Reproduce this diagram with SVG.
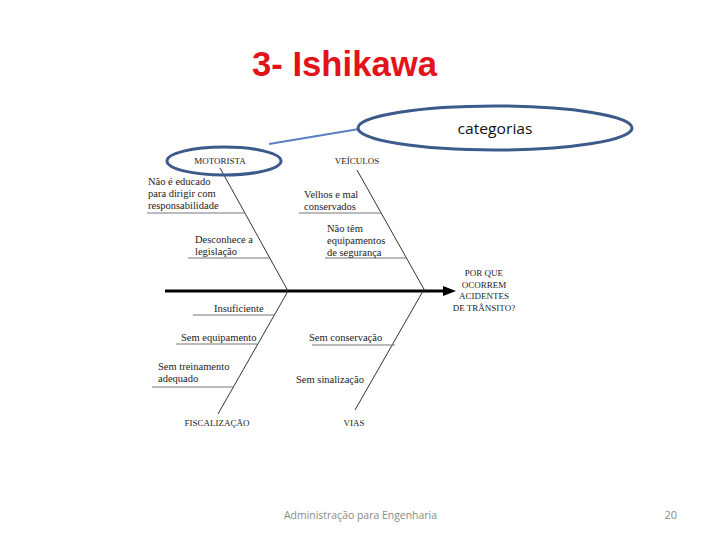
<svg xmlns="http://www.w3.org/2000/svg" width="720" height="540" viewBox="0 0 720 540">
<defs>
<style>
.t{font-family:"Liberation Serif","DejaVu Serif",serif;font-size:10.5px;fill:#222}
.c{font-family:"Liberation Serif","DejaVu Serif",serif;font-size:9px;fill:#222}
.bone{stroke:#333;stroke-width:1;fill:none}
.sub{stroke:#777;stroke-width:1;fill:none}
.oval{fill:none;stroke:#3c5a8a;stroke-width:3}
</style>
</defs>
<rect width="720" height="540" fill="#fff"/>
<text x="252" y="76" font-family="'Liberation Sans',Arial,sans-serif" font-weight="bold" font-size="35" fill="#e3121b" textLength="185" lengthAdjust="spacingAndGlyphs">3- Ishikawa</text>

<g id="connectors">
<line x1="269" y1="144" x2="359" y2="129" stroke="#5b7fbf" stroke-width="2"/>
<line x1="165" y1="291" x2="446" y2="291" stroke="#000" stroke-width="3"/>
<polygon points="443,286 456,291 443,296" fill="#000"/>
<line class="bone" x1="220" y1="168" x2="288" y2="291"/>
<line class="bone" x1="357" y1="170" x2="425" y2="291"/>
<line class="bone" x1="288" y1="291" x2="218" y2="414"/>
<line class="bone" x1="423" y1="291" x2="355" y2="410"/>
<line class="sub" x1="147" y1="213" x2="245" y2="213"/>
<line class="sub" x1="188" y1="258" x2="269" y2="258"/>
<line class="sub" x1="299" y1="213" x2="381" y2="213"/>
<line class="sub" x1="325" y1="258" x2="406" y2="258"/>
<line class="sub" x1="193" y1="315" x2="274" y2="315"/>
<line class="sub" x1="176" y1="344" x2="257" y2="344"/>
<line class="sub" x1="152" y1="387" x2="233" y2="387"/>
<line class="sub" x1="312" y1="345" x2="395" y2="345"/>
</g>

<g id="categorias">
<ellipse class="oval" cx="495" cy="128" rx="137" ry="22"/>
<text x="495" y="134" text-anchor="middle" font-family="'Open Sans','Liberation Sans',sans-serif" font-size="15" fill="#111" textLength="75" lengthAdjust="spacingAndGlyphs">categorias</text>
</g>

<g id="motorista">
<ellipse class="oval" cx="224" cy="161" rx="57" ry="14"/>
<text class="c" x="220" y="164" text-anchor="middle">MOTORISTA</text>
</g>

<g id="veiculos">
<text class="c" x="357" y="164" text-anchor="middle">VEÍCULOS</text>
</g>

<g id="fiscalizacao">
<text class="c" x="217" y="426" text-anchor="middle">FISCALIZAÇÃO</text>
</g>

<g id="vias">
<text class="c" x="354" y="426" text-anchor="middle">VIAS</text>
</g>

<g id="efeito">
<text class="c" x="484" y="276" text-anchor="middle">POR QUE</text>
<text class="c" x="484" y="288" text-anchor="middle">OCORREM</text>
<text class="c" x="484" y="299" text-anchor="middle">ACIDENTES</text>
<text class="c" x="484" y="311" text-anchor="middle">DE TRÂNSITO?</text>
</g>

<g id="causa-nao-educado">
<text class="t" x="148" y="185">Não é educado</text>
<text class="t" x="148" y="197">para dirigir com</text>
<text class="t" x="148" y="209">responsabilidade</text>
</g>
<g id="causa-desconhece">
<text class="t" x="195" y="243">Desconhece a</text>
<text class="t" x="195" y="255">legislação</text>
</g>
<g id="causa-velhos">
<text class="t" x="304" y="198">Velhos e mal</text>
<text class="t" x="304" y="210">conservados</text>
</g>
<g id="causa-nao-tem">
<text class="t" x="327" y="232">Não têm</text>
<text class="t" x="327" y="244">equipamentos</text>
<text class="t" x="327" y="256">de segurança</text>
</g>
<g id="causa-insuficiente">
<text class="t" x="214" y="312">Insuficiente</text>
</g>
<g id="causa-sem-equipamento">
<text class="t" x="181" y="341">Sem equipamento</text>
</g>
<g id="causa-sem-treinamento">
<text class="t" x="158" y="370">Sem treinamento</text>
<text class="t" x="158" y="382">adequado</text>
</g>
<g id="causa-sem-conservacao">
<text class="t" x="309" y="341">Sem conservação</text>
</g>
<g id="causa-sem-sinalizacao">
<text class="t" x="296" y="383">Sem sinalização</text>
</g>

<text x="284" y="519" font-family="'Open Sans','Liberation Sans',sans-serif" font-size="11" fill="#8a8a8a" textLength="153" lengthAdjust="spacingAndGlyphs">Administração para Engenharia</text>
<text x="677" y="519" text-anchor="end" font-family="'Open Sans','Liberation Sans',sans-serif" font-size="11" fill="#8a8a8a">20</text>
</svg>
